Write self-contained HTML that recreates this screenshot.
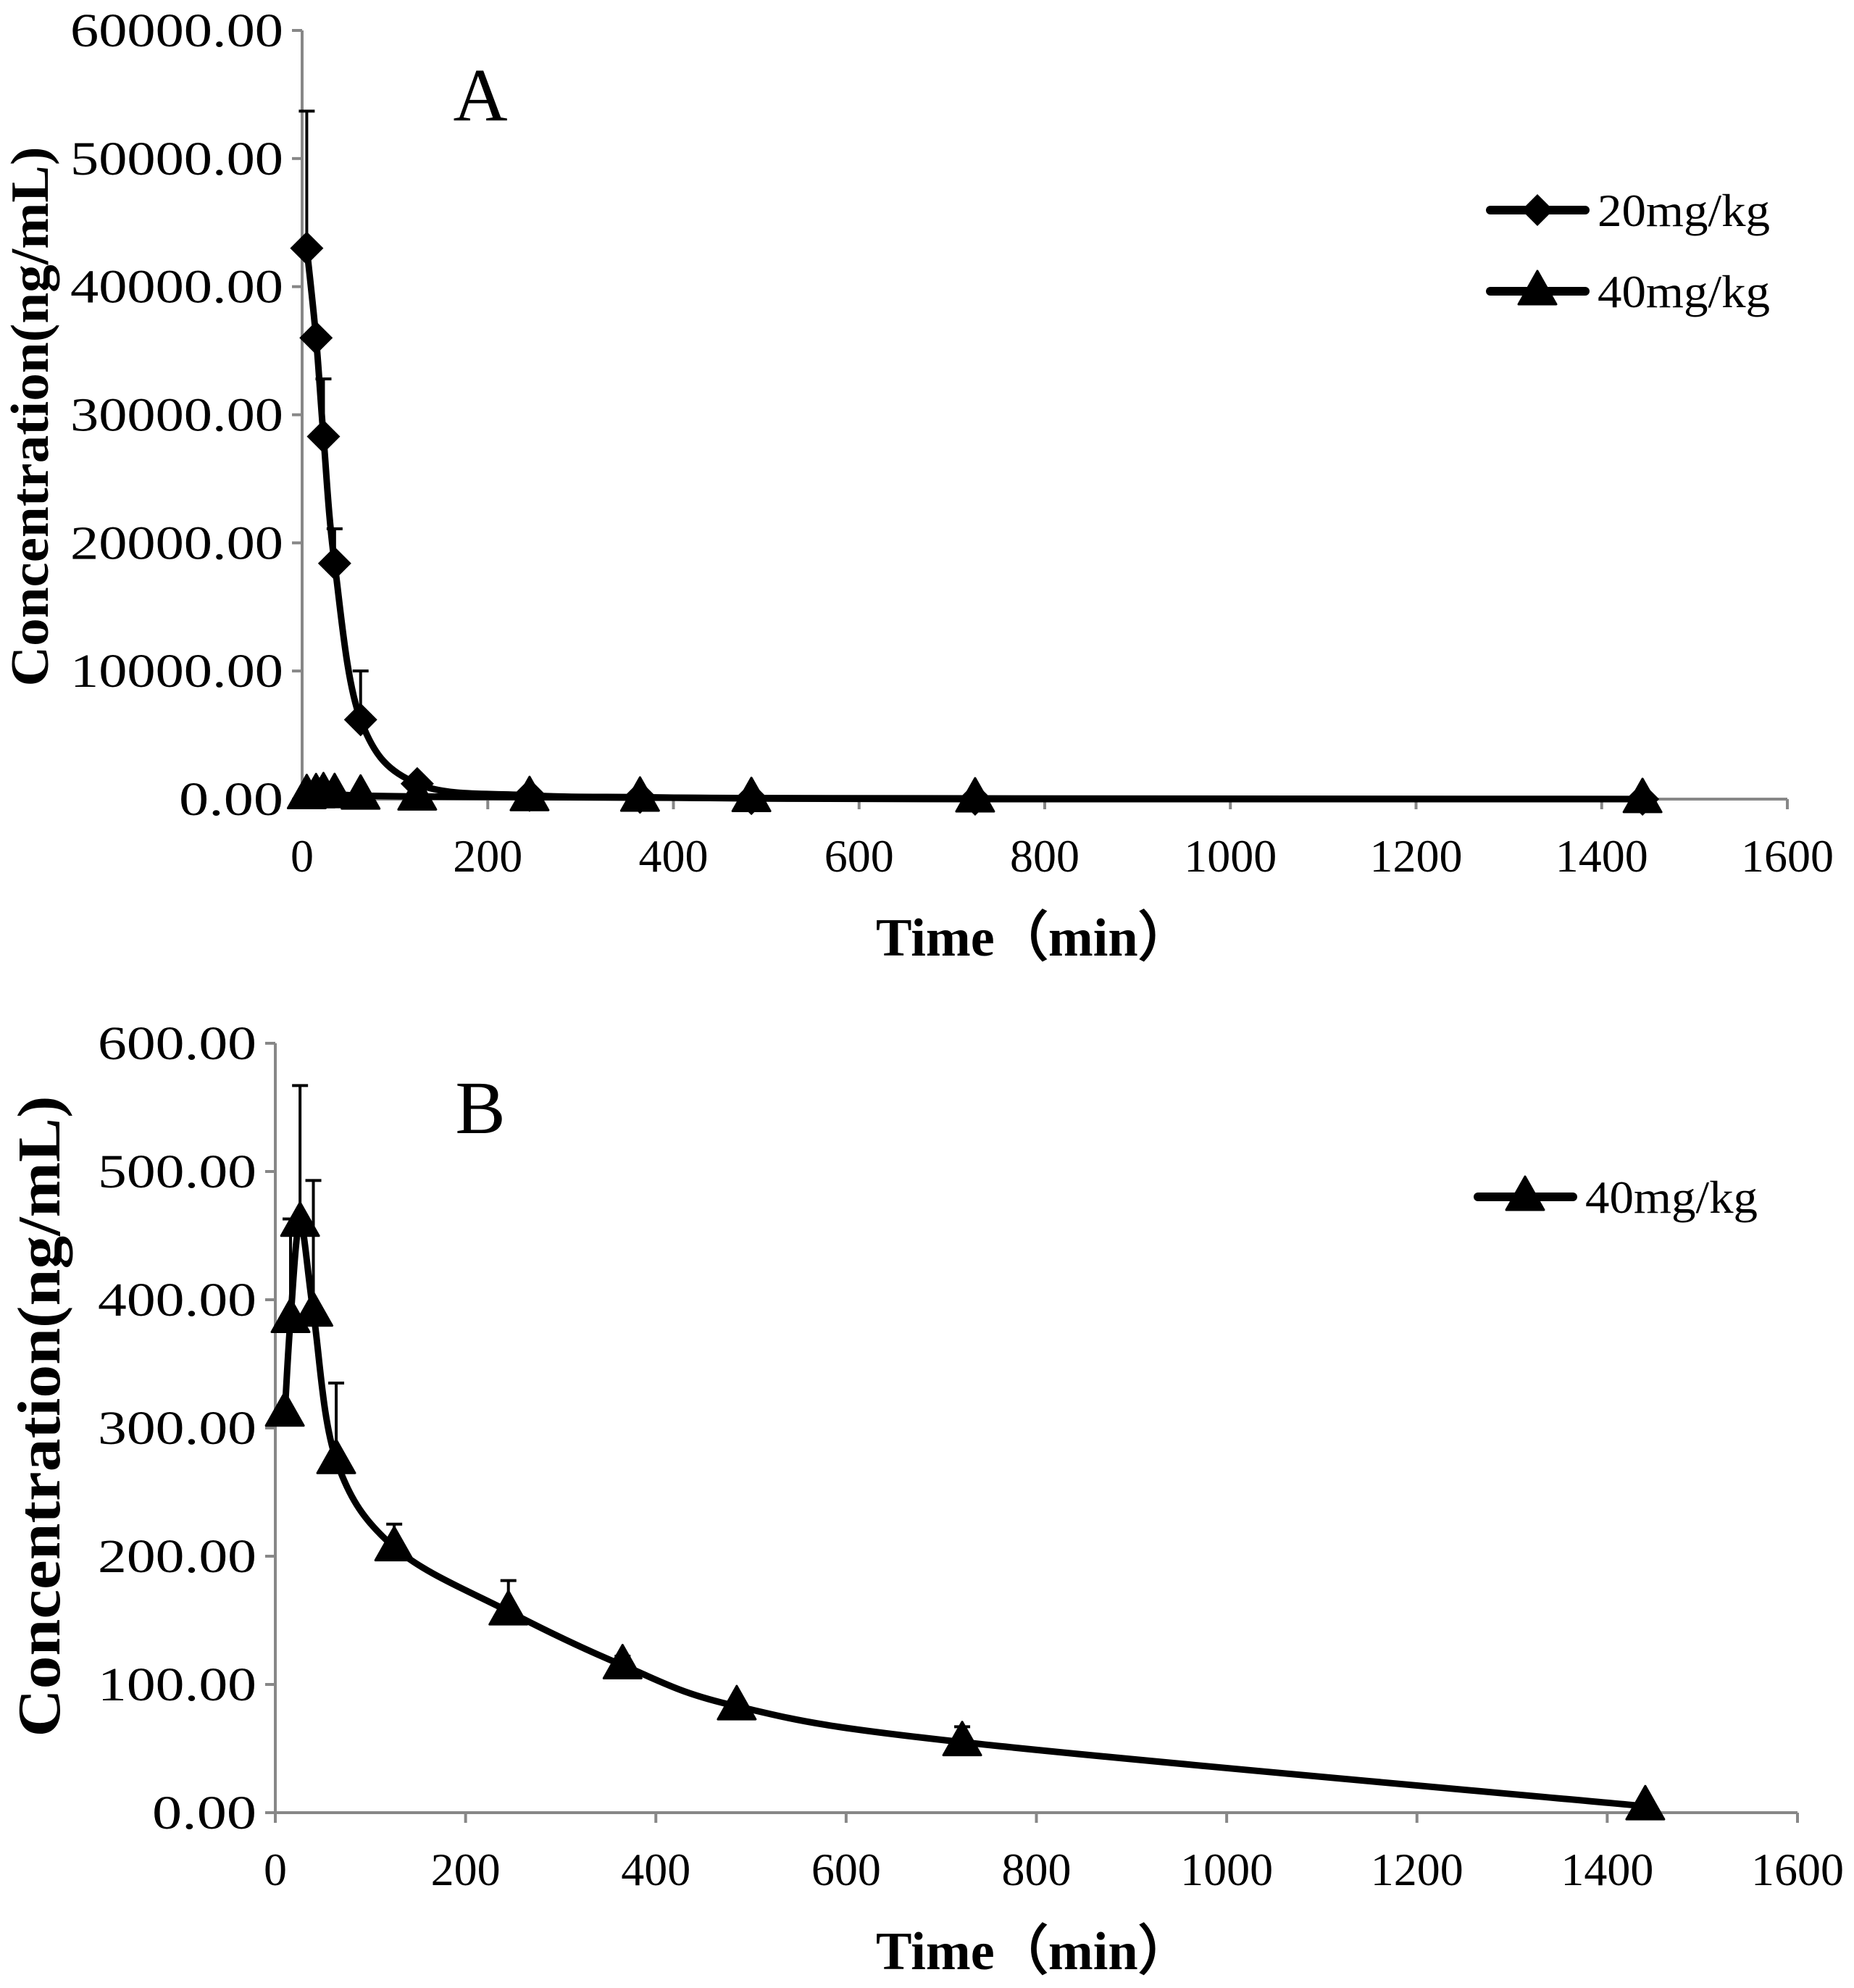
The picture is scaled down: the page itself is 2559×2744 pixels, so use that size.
<!DOCTYPE html>
<html><head><meta charset="utf-8"><style>
html,body{margin:0;padding:0;background:#fff}
svg{display:block}
text{font-family:"Liberation Serif",serif;fill:#000}
</style></head><body>
<svg id="svg" width="2559" height="2744" viewBox="0 0 2559 2744"></svg>
<script>
const ticksYA = [0,10000,20000,30000,40000,50000,60000];
const ticksYB = [0,100,200,300,400,500,600];
const ticksX = [0,200,400,600,800,1000,1200,1400,1600];
const timesA = [5,15,23,35,63,124,245,364,484,725,1444];
const conc20 = [43000,36000,28300,18400,6200,1200,300,150,50,0,0];
const err20 = [10700,0,4500,2700,3800,0,0,0,0,0,0];
const timesB = [10,16,26,40,64,125,245,365,485,722,1440];
const conc40 = [312,385,460,390,275,207,157,115,83,55,5];
const err40 = [0,78,107,103,60,18,24,7,0,12,0];

const NS="http://www.w3.org/2000/svg";
const svg=document.getElementById('svg');
function mk(tag,attrs,parent){const e=document.createElementNS(NS,tag);for(const k in attrs)e.setAttribute(k,attrs[k]);(parent||svg).appendChild(e);return e;}
function smooth(pts){let d=`M${pts[0][0]},${pts[0][1]}`;for(let i=0;i<pts.length-1;i++){const p0=pts[Math.max(0,i-1)],p1=pts[i],p2=pts[i+1],p3=pts[Math.min(pts.length-1,i+2)];const t=0.17;d+=` C${p1[0]+(p2[0]-p0[0])*t},${p1[1]+(p2[1]-p0[1])*t} ${p2[0]-(p3[0]-p1[0])*t},${p2[1]-(p3[1]-p1[1])*t} ${p2[0]},${p2[1]}`;}return d;}

function diamond(g,x,y,r){const e=mk('polygon',{points:`${x},${y-r} ${x+r},${y} ${x},${y+r} ${x-r},${y}`,fill:'#000'},g);}
function tri(g,x,y){const e=mk('polygon',{points:`${x},${y-28} ${x+26},${y+18} ${x-26},${y+18}`,fill:'#000','stroke':'#000','stroke-width':3,'stroke-linejoin':'round'},g);}

function chart(cfg){
  const g=mk('g',{});
  const X=v=>cfg.x0+(v/1600)*(cfg.x1-cfg.x0);
  const Y=v=>cfg.y0-(v/cfg.ymax)*(cfg.y0-cfg.y1);
  const ax=mk('g',{},g);
  mk('line',{x1:cfg.x0,y1:cfg.y1,x2:cfg.x0,y2:cfg.y0,stroke:'#878787','stroke-width':4},ax);
  mk('line',{x1:cfg.x0,y1:cfg.y0,x2:cfg.x1,y2:cfg.y0,stroke:'#878787','stroke-width':4},ax);
  cfg.ticksY.forEach(v=>{mk('line',{x1:cfg.x0-14,y1:Y(v),x2:cfg.x0,y2:Y(v),stroke:'#878787','stroke-width':4},ax);
    const s=v.toFixed(2);
    const t=mk('text',{x:cfg.x0-26,y:Y(v)+22,'text-anchor':'end','font-size':66,textLength:s.length*37.5-6,lengthAdjust:'spacingAndGlyphs'},ax);t.textContent=s;
    });
  ticksX.forEach(v=>{mk('line',{x1:X(v),y1:cfg.y0,x2:X(v),y2:cfg.y0+14,stroke:'#878787','stroke-width':4},ax);
    const t=mk('text',{x:X(v),y:cfg.y0+100,'text-anchor':'middle','font-size':64},ax);t.textContent=v;
    });
  let t=mk('text',{x:1427,y:cfg.y0+216,'text-anchor':'middle','font-size':74,'font-weight':'bold',textLength:436,lengthAdjust:'spacingAndGlyphs'},g);t.textContent='Time（min）';
  
  t=mk('text',{x:0,y:0,'text-anchor':'middle','font-size':cfg.ytf,'font-weight':'bold',textLength:cfg.ytl,lengthAdjust:'spacingAndGlyphs',transform:`translate(${cfg.ytx},${cfg.ytc}) rotate(-90)`},g);t.textContent='Concentration(ng/mL)';
  
  t=mk('text',{x:663,y:cfg.y1+124,'text-anchor':'middle','font-size':104},g);t.textContent=cfg.label;
  
  cfg.series.forEach(s=>{
    const sg=mk('g',{},g);
    s.err.forEach((e,i)=>{if(e>0){const x=X(s.t[i]);mk('line',{x1:x,y1:Y(s.v[i]),x2:x,y2:Y(s.v[i]+e),stroke:'#000','stroke-width':4},sg);mk('line',{x1:x-11,y1:Y(s.v[i]+e),x2:x+11,y2:Y(s.v[i]+e),stroke:'#000','stroke-width':4},sg);}});
    const pts=s.t.map((tt,i)=>[X(tt),Y(s.v[i])]);
    const p=mk('path',{d:smooth(pts),fill:'none',stroke:'#000','stroke-width':9,'stroke-linecap':'round'},sg);
    pts.forEach(q=>s.m==='d'?diamond(sg,q[0],q[1],23):tri(sg,q[0],q[1]));
  });
  cfg.legend.forEach((l,i)=>{
    const lg=mk('g',{},g);
    const y=cfg.ly+i*112;
    mk('line',{x1:cfg.lx,y1:y,x2:cfg.lx+131,y2:y,stroke:'#000','stroke-width':12,'stroke-linecap':'round'},lg);
    l.m==='d'?diamond(lg,cfg.lx+65,y,22):tri(lg,cfg.lx+65,y);
    const tx=mk('text',{x:cfg.lx+148,y:y+22,'font-size':64,textLength:238,lengthAdjust:'spacingAndGlyphs'},lg);tx.textContent=l.text;
  });
}
chart({name:'chart-a',label:'A',x0:417,x1:2467,y0:1103,y1:42,ymax:60000,ticksY:ticksYA,ytx:66,ytc:575,ytf:74,ytl:745,
  series:[{key:'40mgkg',t:timesA,v:conc40,err:[0,0,0,0,0,0,0,0,0,0,0],m:'t'},{key:'20mgkg',t:timesA,v:conc20,err:err20,m:'d'}],
  legend:[{m:'d',text:'20mg/kg'},{m:'t',text:'40mg/kg'}],lx:2057,ly:290});
chart({name:'chart-b',label:'B',x0:380,x1:2481,y0:2502,y1:1440,ymax:600,ticksY:ticksYB,ytx:82,ytc:1955,ytf:84,ytl:885,
  series:[{key:'40mgkg',t:timesB,v:conc40,err:err40,m:'t'}],
  legend:[{m:'t',text:'40mg/kg'}],lx:2040,ly:1652});
</script>
</body></html>
